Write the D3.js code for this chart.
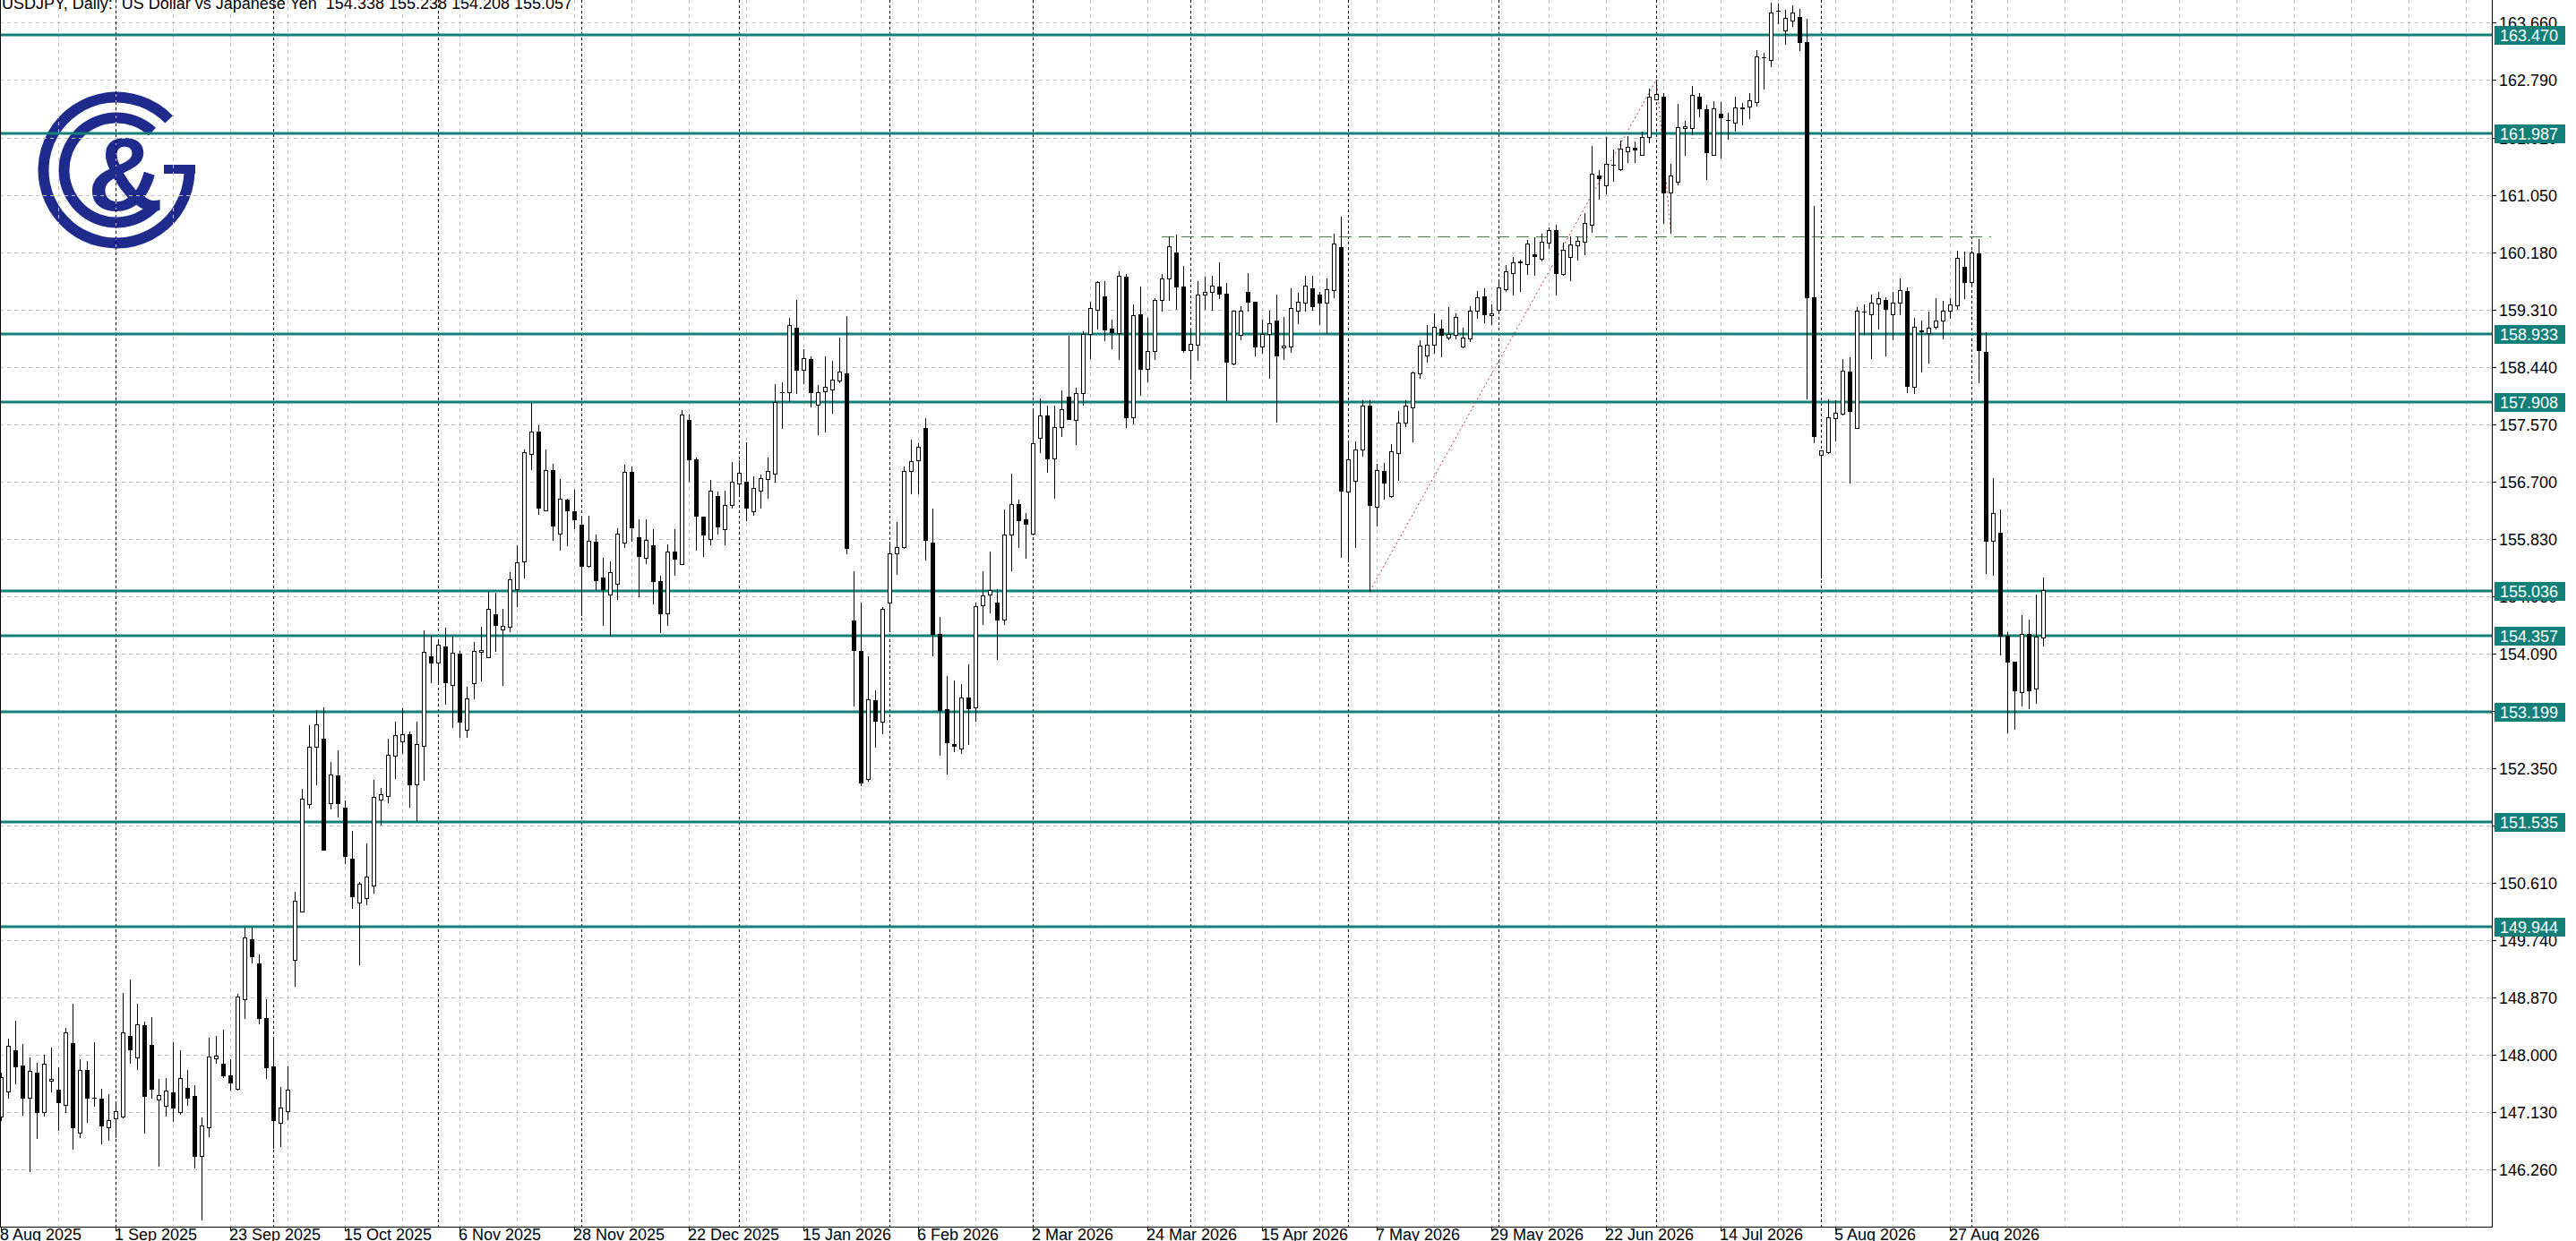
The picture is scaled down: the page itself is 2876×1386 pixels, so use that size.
<!DOCTYPE html>
<html><head><meta charset="utf-8">
<script src="https://cdn.jsdelivr.net/npm/d3@7"></script>
<style>html,body{margin:0;padding:0;background:#fff;overflow:hidden}svg{display:block}</style>
</head><body>
<script>
// ---------------- DATA (daily USDJPY bars, index 0 = 8 Aug 2025) ----------------
const openP = [147.061,147.450,148.071,147.838,147.343,147.731,147.134,147.600,147.469,147.236,
148.178,146.824,147.770,147.343,147.333,146.897,147.037,147.066,148.289,147.964,
148.449,148.144,147.319,147.231,147.426,147.125,147.498,147.377,146.460,146.906,
147.940,147.867,147.683,147.479,148.837,149.759,149.391,148.556,147.819,146.965,
147.149,149.439,150.172,151.807,152.671,152.792,151.817,152.234,151.744,150.982,
150.305,150.375,150.570,151.878,151.925,152.538,152.762,152.868,152.102,152.685,
154.046,153.952,154.193,153.616,154.087,152.938,153.645,154.111,154.040,154.688,
154.453,154.500,155.060,155.484,157.122,157.457,156.255,156.874,155.914,156.426,
156.250,156.043,155.413,155.784,155.236,154.989,155.148,155.766,156.845,155.855,
155.548,155.737,155.189,154.694,155.637,155.442,157.634,157.033,156.165,155.828,
156.482,155.974,156.341,156.668,156.693,156.250,156.567,156.733,156.818,158.060,
158.050,159.030,158.391,158.552,157.864,158.065,158.100,158.226,158.336,154.597,
154.129,152.179,153.376,153.049,154.858,155.612,155.703,156.853,157.019,157.507,
155.773,154.381,153.250,152.722,152.647,153.426,153.275,154.823,154.984,154.858,
154.607,155.889,156.351,156.125,155.904,157.357,157.697,157.054,157.520,157.982,
157.629,158.037,158.943,159.309,159.509,159.015,158.956,159.803,157.679,159.237,
158.413,158.675,159.454,159.780,160.170,159.658,158.698,158.775,159.536,159.577,
159.658,159.545,158.494,158.924,159.581,159.423,158.752,158.934,159.137,158.739,
158.752,159.287,159.409,159.626,159.531,159.409,159.599,160.261,156.542,156.705,
157.181,157.856,156.320,156.862,156.479,157.132,157.598,157.822,158.340,158.617,
158.776,159.017,158.882,158.929,158.746,158.864,159.294,159.512,159.223,159.306,
159.618,159.865,160.030,160.001,160.148,160.077,160.325,160.513,159.854,160.107,
160.284,160.337,160.590,161.338,161.191,161.509,161.432,161.709,161.768,161.662,
161.927,162.492,162.534,161.079,161.250,162.062,162.062,162.534,162.345,161.662,
162.281,162.190,162.150,162.365,162.391,162.463,163.133,163.096,163.846,163.548,
163.693,163.751,163.366,159.494,157.107,157.144,157.660,157.733,158.366,157.515,
159.276,159.240,159.400,159.458,159.240,159.407,159.589,158.134,158.985,158.949,
159.043,159.145,159.290,159.370,159.953,159.727,160.164,158.672,155.797,155.928,
154.364,153.964,153.505,154.386,153.564,154.338];
const highP = [147.731,148.241,148.517,148.168,147.959,147.877,147.998,148.110,147.804,148.410,
148.774,147.935,147.901,148.192,147.479,147.401,147.270,148.944,149.138,148.774,
148.508,148.571,147.634,147.644,148.192,148.071,147.770,147.537,147.052,148.265,
148.289,148.386,147.935,148.920,149.924,149.924,149.527,148.847,148.265,147.513,
147.819,150.473,152.035,152.996,153.238,153.272,152.447,152.617,151.865,151.394,
150.623,151.212,152.172,152.043,152.791,153.056,153.262,152.900,153.056,154.441,
154.364,154.293,154.482,154.341,154.128,153.586,154.264,154.500,155.030,155.018,
154.765,155.325,155.725,157.192,157.888,157.546,157.192,156.974,156.739,156.440,
156.574,156.149,156.179,155.896,155.548,155.484,155.984,156.957,156.927,156.120,
156.120,155.973,155.266,155.749,155.973,157.781,157.711,157.063,156.165,156.718,
156.552,156.567,156.994,157.029,157.296,156.783,156.808,157.060,158.175,158.200,
159.181,159.457,158.703,158.603,158.160,158.592,158.527,158.879,159.216,155.336,
154.868,154.044,153.536,154.793,155.788,156.080,156.929,157.336,157.281,157.663,
156.291,154.642,153.752,153.677,153.627,153.928,154.858,155.336,155.637,155.069,
156.276,156.818,156.426,156.225,157.788,157.960,157.856,157.856,158.082,158.911,
158.127,158.979,159.423,159.740,159.735,159.160,159.885,159.848,159.386,159.658,
159.183,159.486,159.848,160.415,160.451,159.966,159.015,159.735,159.808,159.817,
160.030,159.717,159.296,159.364,159.862,159.432,159.160,159.296,159.531,159.196,
159.631,159.559,159.817,159.826,159.577,159.780,160.464,160.713,157.303,157.303,
157.928,157.928,156.968,156.979,157.262,157.763,157.939,158.369,158.841,159.070,
159.247,159.159,159.341,159.247,159.029,159.365,159.589,159.636,159.382,159.753,
159.983,160.101,160.071,160.366,160.401,160.454,160.560,160.602,160.325,160.425,
160.413,160.778,161.797,161.426,161.933,161.738,161.868,161.944,161.856,162.003,
162.663,162.799,162.592,161.515,162.427,162.168,162.698,162.592,162.416,162.475,
162.463,162.296,162.536,162.441,162.587,163.242,163.206,163.970,163.948,163.860,
163.919,163.875,163.715,160.877,157.166,157.952,157.930,158.563,158.585,159.349,
159.385,159.531,159.582,159.494,159.582,159.785,159.640,159.189,159.145,159.276,
159.480,159.436,159.480,160.207,160.186,160.200,160.382,158.963,156.744,156.278,
154.415,153.964,154.670,154.604,154.983,155.238];
const lowP = [147.003,147.343,147.561,147.091,146.228,146.737,147.076,147.450,146.858,147.125,
146.577,146.751,146.979,147.222,146.654,146.712,146.751,147.052,147.877,147.789,
146.819,147.343,146.315,147.076,146.994,147.100,147.246,146.286,145.500,146.771,
147.877,147.658,147.464,147.464,148.556,149.405,148.483,147.649,146.591,146.615,
147.028,149.041,150.172,151.744,152.098,151.118,151.734,151.613,150.909,150.230,
149.374,150.287,150.464,151.495,151.831,152.202,152.573,151.760,151.554,152.172,
153.657,153.645,153.321,152.968,152.820,152.820,153.410,153.675,154.028,154.134,
153.616,154.423,154.812,155.236,156.886,156.208,156.255,155.814,155.660,155.725,
155.984,154.676,155.401,155.071,154.529,154.364,154.912,155.707,155.796,154.953,
155.454,154.853,154.411,154.529,155.283,155.442,156.709,155.660,155.562,155.748,
155.914,155.748,156.301,156.517,156.115,156.190,156.301,156.456,156.693,157.512,
157.924,158.040,158.190,157.834,157.421,157.462,157.748,158.200,155.612,153.300,
152.094,152.159,152.672,152.873,154.431,155.295,155.688,156.517,156.517,155.512,
154.054,152.556,152.270,152.612,152.586,152.712,153.074,154.542,154.717,154.004,
154.532,155.346,155.703,155.547,155.889,157.145,156.850,156.452,157.385,157.643,
157.267,157.860,158.571,159.015,158.843,158.716,158.562,157.520,157.575,158.019,
158.223,158.562,159.287,159.454,159.319,158.662,158.254,158.549,159.319,159.309,
159.477,157.928,158.481,158.857,159.296,158.607,158.648,158.268,157.607,158.562,
158.662,159.106,159.287,159.305,159.092,158.956,159.500,155.559,155.483,155.704,
157.086,155.039,156.025,156.437,156.467,156.720,157.545,157.303,158.275,158.517,
158.646,158.599,158.852,158.870,158.734,158.823,159.176,159.117,159.088,159.294,
159.589,159.541,159.589,159.854,159.836,160.048,160.236,159.541,159.836,159.753,
160.071,160.148,160.484,160.990,161.073,161.267,161.426,161.544,161.544,161.662,
161.839,162.492,160.619,160.472,161.208,161.650,161.974,162.239,161.285,161.650,
161.619,161.896,162.027,162.114,162.209,162.405,162.660,163.002,163.657,163.337,
163.606,163.242,157.966,157.297,155.237,157.129,157.326,157.711,156.678,157.515,
158.934,158.570,159.021,158.606,158.854,159.240,158.053,158.039,158.366,158.497,
159.021,158.876,159.189,159.312,159.480,159.654,158.206,155.310,155.288,154.073,
152.887,152.945,153.294,153.258,153.345,154.208];
const closeP = [147.658,148.134,147.828,147.353,147.755,147.134,147.862,147.634,147.285,148.338,
146.906,147.770,147.353,147.348,146.921,147.003,147.149,148.347,148.081,148.469,
147.382,147.479,147.392,147.455,147.197,147.644,147.353,146.470,146.921,147.974,
147.983,147.683,147.586,148.886,149.779,149.502,148.556,147.814,147.013,147.197,
147.469,150.337,151.880,152.671,153.020,151.118,152.258,151.817,151.021,150.400,
150.599,150.711,151.907,151.948,152.555,152.850,152.862,152.102,152.715,154.111,
153.952,154.217,153.657,154.099,153.056,153.410,154.128,154.140,154.765,154.529,
154.511,155.219,155.472,157.151,157.457,156.297,156.874,156.032,156.444,156.255,
156.132,155.413,155.796,155.207,155.071,155.325,155.902,156.845,156.002,155.572,
155.808,155.189,154.694,155.637,155.531,157.711,157.033,156.179,155.889,156.567,
156.014,156.341,156.693,156.828,156.306,156.602,156.753,156.858,157.909,158.055,
159.080,158.391,158.567,158.050,158.060,158.135,158.251,158.361,155.688,154.139,
152.129,153.401,153.074,154.768,155.612,155.703,156.853,157.004,157.231,155.813,
154.381,153.235,152.737,152.682,153.426,153.265,154.808,154.974,155.059,154.607,
155.889,156.351,156.115,156.054,157.286,157.697,157.054,157.520,157.792,157.643,
158.037,158.943,159.328,159.722,159.001,158.970,159.817,157.675,159.219,158.413,
158.685,159.454,159.780,160.270,159.658,158.698,158.784,159.536,159.577,159.667,
159.545,158.512,159.287,159.287,159.432,158.752,158.943,159.106,158.607,158.766,
159.328,159.432,159.667,159.355,159.409,159.613,160.315,156.556,157.031,157.190,
157.856,156.338,156.879,156.685,157.156,157.598,157.851,158.352,158.764,158.776,
159.041,158.929,158.941,159.194,158.882,159.294,159.500,159.235,159.253,159.647,
159.883,160.030,160.035,160.307,160.119,160.342,160.519,159.865,160.219,160.295,
160.354,160.619,161.367,161.297,161.520,161.512,161.750,161.780,161.738,161.933,
162.534,162.575,161.079,161.344,162.074,162.092,162.563,162.357,161.691,162.357,
162.230,162.187,162.369,162.372,162.478,163.155,163.140,163.810,163.846,163.729,
163.810,163.373,159.494,157.384,157.166,157.675,157.748,158.381,157.770,159.290,
159.280,159.407,159.480,159.312,159.407,159.603,158.148,159.043,158.990,159.036,
159.145,159.290,159.385,160.091,159.727,160.171,158.694,155.797,156.219,154.364,
153.964,153.527,154.386,153.527,154.342,155.057];

const dateLabels = ["8 Aug 2025","1 Sep 2025","23 Sep 2025","15 Oct 2025","6 Nov 2025","28 Nov 2025",
"22 Dec 2025","15 Jan 2026","6 Feb 2026","2 Mar 2026","24 Mar 2026","15 Apr 2026","7 May 2026",
"29 May 2026","22 Jun 2026","14 Jul 2026","5 Aug 2026","27 Aug 2026"];
const dateLabelBars = [0,16,32,48,64,80,96,112,128,144,160,176,192,208,224,240,256,272];
const monthStartBars = [16,38,61,81,103,124,144,166,188,209,231,254,275];
const priceTicks = [163.660,162.790,161.920,161.050,160.180,159.310,158.440,157.570,156.700,155.830,
154.960,154.090,153.220,152.350,151.480,150.610,149.740,148.870,148.000,147.130,146.260];
const levelPrices = [163.470,161.987,158.933,157.908,155.036,154.357,153.199,151.535,149.944];
const titleText = "USDJPY, Daily:  US Dollar vs Japanese Yen  154.338 155.238 154.208 155.057";
const hLineBars = [162, 277.75];
const hLinePrice = 160.42;
const zigzagBars = [191, 231, 233];
const zigzagPrices = [155.039, 162.799, 160.472];

// ---------------- LAYOUT ----------------
const W = 2876, H = 1386, plotRight = 2782, plotBottom = 1370;
const FONT = "'Liberation Sans', Arial, sans-serif";
const x = d3.scaleLinear().domain([0, 1]).range([1, 9]);
const y = d3.scaleLinear().domain([145.392, 164.006]).range([plotBottom, 0]);
const py = v => Math.round(y(v));

const svg = d3.select("body").append("svg").attr("width", W).attr("height", H)
  .style("font-family", FONT);
svg.append("rect").attr("width", W).attr("height", H).attr("fill", "#fff");

// ---- logo (background) ----
const logo = svg.append("g").attr("transform", "translate(130,190)").attr("fill", "#1e2a8c");
const deg = Math.PI / 180;
logo.append("path").attr("d", d3.arc().innerRadius(75.5).outerRadius(87.5).startAngle(86*deg).endAngle(406*deg)());
logo.append("path").attr("d", d3.arc().innerRadius(52.5).outerRadius(64.5).startAngle(133*deg).endAngle(403*deg)());
logo.append("rect").attr("x", 53).attr("y", -6).attr("width", 35).attr("height", 10);
logo.append("text").attr("x", 10).attr("y", 45).attr("text-anchor", "middle")
  .attr("font-size", 117).attr("font-weight", "bold").attr("font-family", "'Liberation Sans', Arial").text("&");

// ---- grid ----
const nBarsVisible = Math.floor((plotRight - 1) / 8);
const gridBars = d3.range(8, nBarsVisible + 1, 8);
svg.append("g").selectAll("line").data(gridBars).join("line")
  .attr("x1", d => x(d) + 0.5).attr("x2", d => x(d) + 0.5)
  .attr("y1", 0).attr("y2", plotBottom)
  .attr("stroke", "#c4c4c4").attr("stroke-dasharray", "4,4");
svg.append("g").selectAll("line").data(priceTicks).join("line")
  .attr("x1", 0).attr("x2", plotRight)
  .attr("y1", d => py(d) + 0.5).attr("y2", d => py(d) + 0.5)
  .attr("stroke", "#c4c4c4").attr("stroke-dasharray", "4,4");

// ---- month separators ----
svg.append("g").selectAll("line").data(monthStartBars).join("line")
  .attr("x1", d => x(d) + 0.5).attr("x2", d => x(d) + 0.5)
  .attr("y1", 0).attr("y2", plotBottom)
  .attr("stroke", "#000").attr("stroke-dasharray", "3,3");

// ---- teal levels ----
svg.append("g").selectAll("line").data(levelPrices).join("line")
  .attr("x1", 0).attr("x2", plotRight)
  .attr("y1", d => py(d)).attr("y2", d => py(d))
  .attr("stroke", "#127f78").attr("stroke-width", 3);

// ---- drawn objects ----
svg.append("line")
  .attr("x1", x(hLineBars[0])).attr("x2", x(hLineBars[1]))
  .attr("y1", py(hLinePrice) + 0.5).attr("y2", py(hLinePrice) + 0.5)
  .attr("stroke", "#4a7a4a").attr("stroke-dasharray", "14,8");
svg.append("path")
  .attr("d", d3.line().x(d => x(d[0]) + 0.5).y(d => y(d[1]))(zigzagBars.map((b, i) => [b, zigzagPrices[i]])))
  .attr("fill", "none").attr("stroke", "#c0392b").attr("stroke-dasharray", "2,3");

// ---- candles ----
const bars = d3.range(openP.length).map(i => ({i, o: openP[i], h: highP[i], l: lowP[i], c: closeP[i]}));
const cg = svg.append("g");
cg.selectAll("line").data(bars).join("line")
  .attr("x1", d => x(d.i) + 0.5).attr("x2", d => x(d.i) + 0.5)
  .attr("y1", d => py(d.h)).attr("y2", d => py(d.l) + 1)
  .attr("stroke", "#000");
cg.selectAll("rect").data(bars).join("rect")
  .each(function(d) {
    const top = py(Math.max(d.o, d.c)), bot = py(Math.min(d.o, d.c));
    const r = d3.select(this);
    if (d.c < d.o) {
      r.attr("x", x(d.i) - 2).attr("y", top).attr("width", 5).attr("height", Math.max(1, bot - top + 1)).attr("fill", "#000");
    } else if (bot - top < 1) {
      r.attr("x", x(d.i) - 2).attr("y", top).attr("width", 5).attr("height", 1).attr("fill", "#000");
    } else {
      r.attr("x", x(d.i) - 1.5).attr("y", top + 0.5).attr("width", 4).attr("height", bot - top)
        .attr("fill", "#fff").attr("stroke", "#000");
    }
  });

// ---- frame ----
svg.append("line").attr("x1", 0.5).attr("x2", 0.5).attr("y1", 0).attr("y2", plotBottom + 1).attr("stroke", "#000");
svg.append("line").attr("x1", plotRight + 0.5).attr("x2", plotRight + 0.5).attr("y1", 0).attr("y2", plotBottom + 1).attr("stroke", "#000");
svg.append("line").attr("x1", 0).attr("x2", plotRight + 1).attr("y1", plotBottom + 0.5).attr("y2", plotBottom + 0.5).attr("stroke", "#000");

// ---- right price axis ----
const ra = svg.append("g");
ra.selectAll("line").data(priceTicks).join("line")
  .attr("x1", plotRight).attr("x2", plotRight + 5)
  .attr("y1", d => py(d) + 0.5).attr("y2", d => py(d) + 0.5).attr("stroke", "#000");
ra.selectAll("text").data(priceTicks).join("text")
  .attr("x", plotRight + 8).attr("y", d => py(d) + 7)
  .attr("font-size", 18).attr("fill", "#000").text(d => d.toFixed(3));

const lb = svg.append("g");
lb.selectAll("rect").data(levelPrices).join("rect")
  .attr("x", plotRight + 3).attr("y", d => py(d) - 10).attr("width", 79).attr("height", 21)
  .attr("fill", "#127f78");
lb.selectAll("text").data(levelPrices).join("text")
  .attr("x", plotRight + 9).attr("y", d => py(d) + 7)
  .attr("font-size", 18).attr("fill", "#fff").text(d => d.toFixed(3));

// ---- bottom time axis ----
const ba = svg.append("g");
ba.selectAll("line").data(dateLabelBars).join("line")
  .attr("x1", d => x(d) + 0.5).attr("x2", d => x(d) + 0.5)
  .attr("y1", plotBottom).attr("y2", plotBottom + 5).attr("stroke", "#000");
ba.selectAll("text").data(dateLabels).join("text")
  .attr("x", (d, i) => x(dateLabelBars[i]) - 1).attr("y", 1385)
  .attr("font-size", 18).attr("fill", "#000").text(d => d);

// ---- title ----
svg.append("text").attr("x", 2).attr("y", 10).attr("font-size", 18).attr("fill", "#000")
  .style("white-space", "pre").text(titleText);
</script>
</body></html>
